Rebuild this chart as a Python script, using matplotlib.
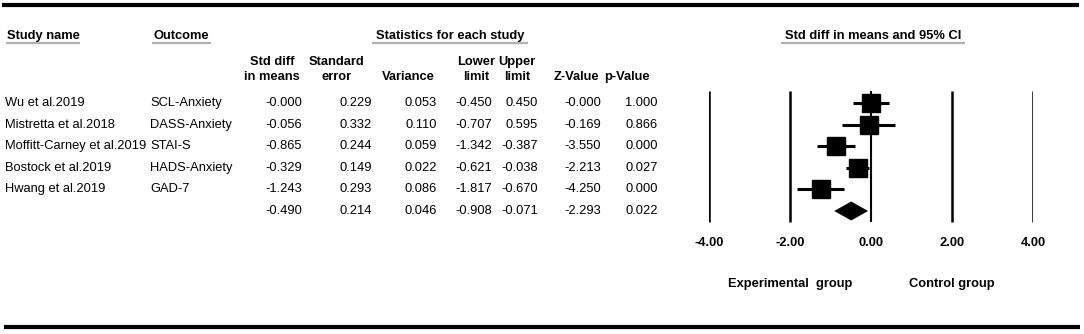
import matplotlib
matplotlib.use("Agg")
import matplotlib.pyplot as plt

plt.rcParams['font.family'] = ['Liberation Sans', 'DejaVu Sans']

studies = ["Wu et al.2019", "Mistretta et al.2018", "Moffitt-Carney et al.2019",
           "Bostock et al.2019", "Hwang et al.2019", ""]
outcomes = ["SCL-Anxiety", "DASS-Anxiety", "STAI-S", "HADS-Anxiety", "GAD-7", ""]
smd = [-0.000, -0.056, -0.865, -0.329, -1.243, -0.490]
se = [0.229, 0.332, 0.244, 0.149, 0.293, 0.214]
variance = [0.053, 0.110, 0.059, 0.022, 0.086, 0.046]
lower = [-0.450, -0.707, -1.342, -0.621, -1.817, -0.908]
upper = [0.450, 0.595, -0.387, -0.038, -0.670, -0.071]
zval = [-0.000, -0.169, -3.550, -2.213, -4.250, -2.293]
pval = [1.000, 0.866, 0.000, 0.027, 0.000, 0.022]
ticks = [-4, -2, 0, 2, 4]

W, H = 1084, 334
fig = plt.figure(figsize=(W / 100, H / 100), dpi=100)
ax = fig.add_axes([0, 0, 1, 1])
ax.set_xlim(0, W)
ax.set_ylim(H, 0)
ax.axis('off')

fs = 9.25
row_y = [103 + 21.6 * i for i in range(len(smd))]

# frame lines
ax.plot([2, 1079], [5, 5], color='black', lw=3, solid_capstyle='butt')
ax.plot([4, 1080], [327, 327], color='black', lw=3, solid_capstyle='butt')

# group headers with grey underline
heads = [("Study name", 6, 80, 'left'), ("Outcome", 152, 211, 'left'),
         ("Statistics for each study", 372, 528, 'center'),
         ("Std diff in means and 95% CI", 781, 965, 'center')]
for txt, x0, x1, ha in heads:
    xt = x0 + 1 if ha == 'left' else (x0 + x1) / 2
    ax.text(xt, 36, txt, ha=ha, va='center', fontsize=fs, fontweight='bold')
    ax.plot([x0, x1], [43, 43], color='#b0b0b0', lw=1.6, solid_capstyle='butt')

# column headers (top line, bottom line, centre x)
cols = [("Std diff", "in means", 272), ("Standard", "error", 337), ("", "Variance", 408),
        ("Lower", "limit", 476), ("Upper", "limit", 517), ("", "Z-Value", 576),
        ("", "p-Value", 627)]
for top, bot, xc in cols:
    if top:
        ax.text(xc, 62, top, ha='center', va='center', fontsize=fs, fontweight='bold')
    ax.text(xc, 77, bot, ha='center', va='center', fontsize=fs, fontweight='bold')

# table body
right_edges = [302, 372, 437, 492, 538, 601, 658]
for i, y in enumerate(row_y):
    ax.text(5, y, studies[i], ha='left', va='center', fontsize=fs)
    ax.text(150, y, outcomes[i], ha='left', va='center', fontsize=fs)
    vals = [smd[i], se[i], variance[i], lower[i], upper[i], zval[i], pval[i]]
    for k, (v, xr) in enumerate(zip(vals, right_edges)):
        s = f"{v:.3f}"
        if i == 0 and k in (0, 5):
            s = "-0.000"
        ax.text(xr, y, s, ha='right', va='center', fontsize=fs)

# forest plot panel
fx0, fx1 = 709, 1033
fa = fig.add_axes([fx0 / W, 0, (fx1 - fx0) / W, 1])
fa.set_xlim(-4, 4)
fa.set_ylim(H, 0)
fa.axis('off')

for t in ticks:
    fa.plot([t, t], [91, 222], color='black', lw=1.8 if t != 0 else 1.5,
            solid_capstyle='butt')
    fa.text(t, 243, f"{t:.2f}", ha='center', va='center', fontsize=fs,
            fontweight='bold')

for i in range(5):
    fa.plot([lower[i], upper[i]], [row_y[i], row_y[i]], color='black', lw=2.2,
            solid_capstyle='butt')
    fa.plot(smd[i], row_y[i], marker='s', color='black', markersize=13,
            linestyle='none')

yd = row_y[5]
fa.fill([lower[5], smd[5], upper[5], smd[5]], [yd, yd - 9.5, yd, yd + 9.5],
        color='black', lw=0)

fa.text(-2, 284, "Experimental  group", ha='center', va='center', fontsize=fs,
        fontweight='bold')
fa.text(2, 284, "Control group", ha='center', va='center', fontsize=fs,
        fontweight='bold')

fig.savefig("out.png", dpi=100)
